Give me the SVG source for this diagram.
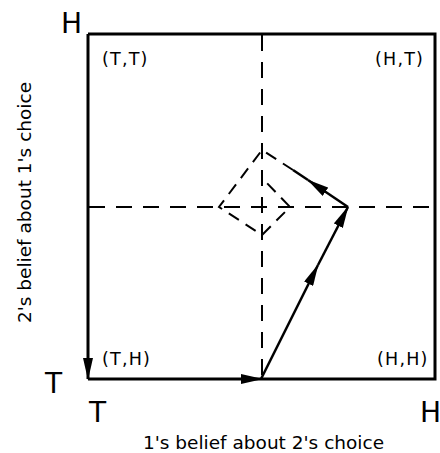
<svg xmlns="http://www.w3.org/2000/svg" width="440" height="453" viewBox="0 0 440 453">
<style>
.big{font-family:"DejaVu Sans",sans-serif;font-size:28px;fill:#000}
.lab{font-family:"DejaVu Sans",sans-serif;font-size:17.5px;letter-spacing:1.2px;fill:#000}
.ax{font-family:"DejaVu Sans",sans-serif;font-size:18.5px;fill:#000}
.frame{fill:none;stroke:#000;stroke-width:3}
.dash{fill:none;stroke:#000;stroke-width:2;stroke-dasharray:16 11}
.traj{fill:none;stroke:#000;stroke-width:2.5}
</style>
<defs>
<marker id="ah" viewBox="0 0 22 10" refX="21" refY="5" markerWidth="22" markerHeight="10" markerUnits="userSpaceOnUse" orient="auto">
<path d="M0,0 L22,5 L0,10 z" fill="#000"/>
</marker>
</defs>
<rect width="440" height="453" fill="#fff"/>
<g id="frame">
<polyline class="frame" points="88,34 435,34 435,379 262,379"/>
</g>
<g id="axes">
<line class="dash" x1="262" y1="35" x2="262" y2="378"/>
<line class="dash" x1="89" y1="207" x2="434" y2="207"/>
</g>
<g id="connectors">
<line class="frame" x1="88" y1="34" x2="88" y2="379" marker-end="url(#ah)"/>
<line class="frame" x1="88" y1="379" x2="262" y2="379" marker-end="url(#ah)"/>
<line class="traj" x1="261" y1="379" x2="318" y2="265" marker-end="url(#ah)"/>
<line class="traj" x1="318" y1="265" x2="348" y2="207" marker-end="url(#ah)"/>
<line class="traj" x1="348" y1="207" x2="308" y2="180" marker-end="url(#ah)"/>
<line class="traj" x1="308" y1="180" x2="293" y2="170"/>
<polyline class="dash" style="stroke-dasharray:12 8" points="293,170 262,150 219,207 262,235 290,207 262,178"/>
</g>
<g id="labels">
<text class="big" x="61" y="33">H</text>
<text class="big" x="45" y="393">T</text>
<text class="big" x="89" y="422">T</text>
<text class="big" x="420" y="422">H</text>
<text class="lab" x="102" y="65">(T,T)</text>
<text class="lab" x="375" y="65">(H,T)</text>
<text class="lab" x="102" y="365">(T,H)</text>
<text class="lab" x="377" y="365">(H,H)</text>
<text class="ax" x="263.5" y="449" text-anchor="middle">1's belief about 2's choice</text>
<text class="ax" x="0" y="0" text-anchor="middle" transform="translate(31,202.5) rotate(-90)">2's belief about 1's choice</text>
</g>
</svg>
